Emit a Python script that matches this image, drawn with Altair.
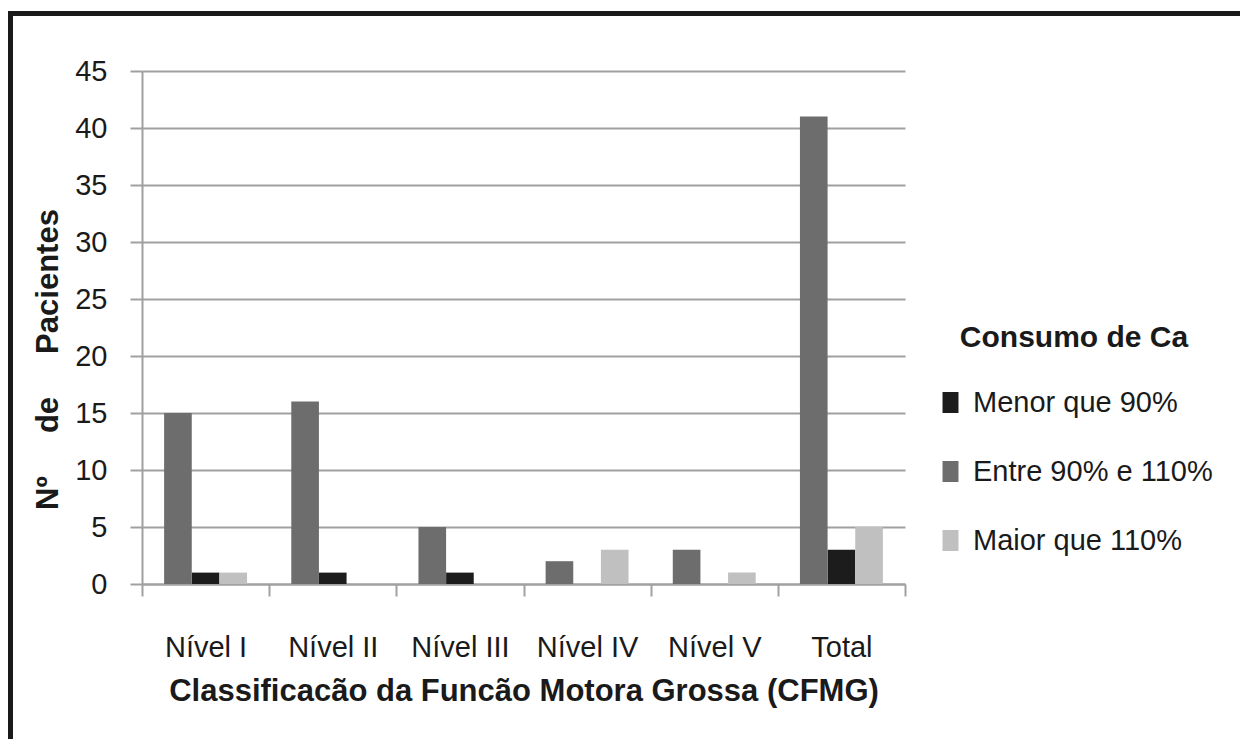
import altair as alt
import pandas as pd

categories = ["Nível I", "Nível II", "Nível III", "Nível IV", "Nível V", "Total"]
series = ["Menor que 90%", "Entre 90% e 110%", "Maior que 110%"]
menor = [1, 1, 1, 0, 0, 3]
entre = [15, 16, 5, 2, 3, 41]
maior = [1, 0, 0, 3, 1, 5]
y_ticks = [0, 5, 10, 15, 20, 25, 30, 35, 40, 45]
colors = ["#1c1c1c", "#6d6d6d", "#c0c0c0"]
bar_order = [series[1], series[0], series[2]]

rows = []
for s, vals in zip(series, [menor, entre, maior]):
    for c, v in zip(categories, vals):
        rows.append({"cat": c, "serie": s, "n": v})
df = pd.DataFrame(rows)

FONT = "Liberation Sans, Arial, sans-serif"
TXT = "#1a1a1a"
GRID = "#a0a0a0"
NB = "\u00a0" * 5
y_title = "Nº" + NB + "de" + NB + "Pacientes"

bars = alt.Chart(df).mark_bar().encode(
    x=alt.X(
        "cat:N",
        sort=categories,
        scale=alt.Scale(paddingInner=0, paddingOuter=0),
        axis=alt.Axis(
            title="Classificacão da Funcão Motora Grossa (CFMG)",
            labelAngle=0,
            tickBand="extent",
            grid=False,
            labelPadding=37,
            labelFontSize=29,
            titleFontSize=31,
            titleX=381.5,
            titleY=116,
            titleBaseline="alphabetic",
            titleAlign="center",
        ),
    ),
    xOffset=alt.XOffset("serie:N", sort=bar_order,
                        scale=alt.Scale(paddingInner=0, paddingOuter=0.8)),
    y=alt.Y(
        "n:Q",
        scale=alt.Scale(domain=[0, 45], nice=False),
        axis=alt.Axis(
            values=y_ticks,
            title=y_title,
            grid=True,
            labelPadding=23,
            labelFontSize=29,
            titleFontSize=31,
            titleAngle=270,
            titleX=-85,
            titleY=288,
            titleBaseline="alphabetic",
            titleAlign="center",
        ),
    ),
    color=alt.Color(
        "serie:N",
        scale=alt.Scale(domain=series, range=colors),
        legend=alt.Legend(
            title="Consumo de Ca",
            orient="none",
            legendX=794,
            legendY=252,
            titleFontSize=30,
            titleFont=FONT,
            titleFontWeight="bold",
            titleColor=TXT,
            titleAnchor="middle",
            titlePadding=35,
            titleLimit=500,
            labelFontSize=29,
            labelFont=FONT,
            labelColor=TXT,
            labelOffset=8,
            labelLimit=500,
            symbolType="M-0.76,-1H0.76V1H-0.76Z",
            symbolSize=441,
            symbolStrokeWidth=0,
            rowPadding=39,
            padding=0,
            offset=0,
        ),
    ),
)

one = pd.DataFrame({"k": [0]})
top_edge = alt.Chart(one).mark_rule(
    stroke="#1a1a1a", strokeWidth=5, clip=False
).encode(
    x=alt.value(-134), x2=alt.value(1150),
    y=alt.value(-57.5),
)
left_edge = alt.Chart(one).mark_rule(
    stroke="#1a1a1a", strokeWidth=5, clip=False
).encode(
    x=alt.value(-131.5),
    y=alt.value(-60), y2=alt.value(700),
)

chart = alt.layer(bars, top_edge, left_edge).properties(
    width=763,
    height=513,
    autosize=alt.AutoSizeParams(type="none"),
    padding={"left": 134, "top": 63, "right": 335, "bottom": 155},
    background="white",
).configure_view(
    stroke="transparent"
).configure_axis(
    domainColor=GRID,
    domainWidth=2,
    tickColor=GRID,
    tickWidth=2,
    tickSize=12,
    gridColor=GRID,
    gridWidth=2,
    labelFont=FONT,
    labelColor=TXT,
    titleFont=FONT,
    titleColor=TXT,
    titleFontWeight="bold",
)

chart.save("out.html", embed_options={"renderer": "svg", "actions": False})
